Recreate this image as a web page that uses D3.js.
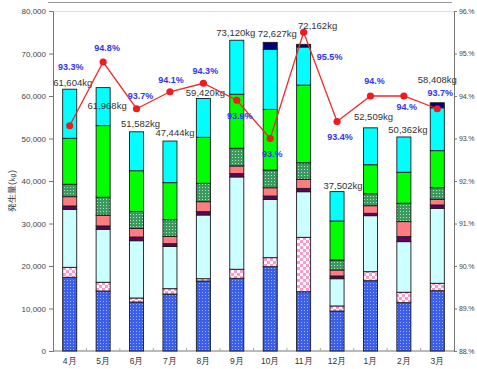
<!DOCTYPE html>
<html>
<head>
<meta charset="utf-8">
<script src="https://cdn.jsdelivr.net/npm/d3@7"></script>
<style>
  body { margin: 0; background: #fff; }
  text { font-family: "Liberation Sans", Arial, sans-serif; }
</style>
</head>
<body>
<svg id="chart" width="477" height="369"></svg>
<script>
const months = ["4月", "5月", "6月", "7月", "8月", "9月", "10月", "11月", "12月", "1月", "2月", "3月"];
const totalLabels = ["61,604kg", "61,968kg", "51,582kg", "47,444kg", "59,420kg", "73,120kg", "72,627kg", "72,162kg", "37,502kg", "52,509kg", "50,362kg", "58,408kg"];
const rateValues = [0.933, 0.948, 0.937, 0.941, 0.943, 0.939, 0.930, 0.955, 0.934, 0.940, 0.940, 0.937];
const rateLabels = ["93.3%", "94.8%", "93.7%", "94.1%", "94.3%", "93.9%", "93.%", "95.5%", "93.4%", "94.%", "94.%", "93.7%"];

// stacked series, bottom to top
const seriesKeys = ["s1", "s2", "s3", "s4", "s5", "s6", "s7", "s8", "s9"];
const s1 = [17340, 14120, 11530, 13410, 16470, 17110, 19840, 13950, 9410, 16540, 11370, 14190];
const s2 = [2350, 2050, 940, 1250, 540, 2120, 2120, 12800, 1180, 2120, 2450, 1740];
const s3 = [13650, 12470, 13480, 9950, 14990, 21720, 13720, 10730, 6420, 13180, 11910, 17650];
const s4 = [780, 780, 870, 640, 780, 780, 780, 780, 640, 560, 1180, 780];
const s5 = [2190, 2520, 2020, 1720, 2350, 1810, 1950, 2120, 1410, 1790, 3530, 1340];
const s6 = [2920, 4240, 4000, 3930, 4330, 4160, 4160, 3910, 2350, 2820, 4330, 2730];
const s7 = [10820, 16850, 9580, 8710, 10820, 12710, 14280, 18280, 9180, 6820, 7290, 8710];
const s8 = [11550, 8940, 9160, 9790, 9140, 12710, 14120, 8950, 6910, 8680, 8300, 10090];
const s9 = [0, 0, 0, 0, 0, 0, 1650, 640, 0, 0, 0, 1180];

const leftTicks = [0, 10000, 20000, 30000, 40000, 50000, 60000, 70000, 80000];
const rightTicks = [0.88, 0.89, 0.90, 0.91, 0.92, 0.93, 0.94, 0.95, 0.96];

// label placement (offsets from point / bar top)
const rateDx = [1, 4, 4, 1, 2, 3, 2, 26, 3, 4, 3, 3];
const rateDy = [-59, -14, -13, -12, -12, 16, 15, 25, 15, -15, 11, -16];
const totalDx = [3, 4, 4, 5, 2, -1, 7, 14, 6, 3, 4, 0];
const totalDy = [-7, 18, -8, -8, -6, -8, -9, -19, -6, -11, -7, -23];

const fills = {
    s1: "url(#dotBlue)", s2: "url(#checkPink)", s3: "#ccffff", s4: "#660066", s5: "#ff7c80",
    s6: "url(#dotGreen)", s7: "#00ff00", s8: "#00ffff", s9: "#000080"
};

const rows = months.map((m, i) => ({
    month: m, s1: s1[i], s2: s2[i], s3: s3[i], s4: s4[i], s5: s5[i],
    s6: s6[i], s7: s7[i], s8: s8[i], s9: s9[i]
}));

const svg = d3.select("#chart");
const plotLeft = 53, plotRight = 454, plotTop = 11, plotBottom = 351;

const x = d3.scaleBand().domain(months).range([plotLeft, plotRight]).paddingInner(0.58).paddingOuter(0.29);
const y = d3.scaleLinear().domain([0, 80000]).range([plotBottom, plotTop]);
const yr = d3.scaleLinear().domain([0.88, 0.96]).range([plotBottom, plotTop]);

const defs = svg.append("defs");
const dotBlue = defs.append("pattern").attr("id", "dotBlue").attr("patternUnits", "userSpaceOnUse").attr("width", 3).attr("height", 3);
dotBlue.append("rect").attr("width", 3).attr("height", 3).attr("fill", "#3b5fe8");
dotBlue.append("rect").attr("x", 1).attr("y", 1).attr("width", 1).attr("height", 1).attr("fill", "#9fb4ff");

const checkPink = defs.append("pattern").attr("id", "checkPink").attr("patternUnits", "userSpaceOnUse").attr("width", 6).attr("height", 6);
checkPink.append("rect").attr("width", 6).attr("height", 6).attr("fill", "#fff");
checkPink.append("rect").attr("width", 3).attr("height", 3).attr("fill", "#ff99cc");
checkPink.append("rect").attr("x", 3).attr("y", 3).attr("width", 3).attr("height", 3).attr("fill", "#ff99cc");

const dotGreen = defs.append("pattern").attr("id", "dotGreen").attr("patternUnits", "userSpaceOnUse").attr("width", 3).attr("height", 3);
dotGreen.append("rect").attr("width", 3).attr("height", 3).attr("fill", "#3a9a60");
dotGreen.append("rect").attr("x", 1).attr("y", 1).attr("width", 1).attr("height", 1).attr("fill", "#b8e0c4");

// frame lines
svg.append("line").attr("x1", 48).attr("x2", 452).attr("y1", 2.5).attr("y2", 2.5).attr("stroke", "#999");
svg.append("line").attr("x1", plotLeft).attr("x2", plotRight).attr("y1", plotTop + 0.5).attr("y2", plotTop + 0.5).attr("stroke", "#ddd");

// axes
const leftAxis = svg.append("g").attr("transform", `translate(${plotLeft},0)`)
    .call(d3.axisLeft(y).tickValues(leftTicks).tickFormat(d3.format(",")).tickSize(4).tickPadding(3));
const rightAxis = svg.append("g").attr("transform", `translate(${plotRight},0)`)
    .call(d3.axisRight(yr).tickValues(rightTicks).tickFormat(d => Math.round(d * 100) + ".%").tickSize(3).tickPadding(2));
[leftAxis, rightAxis].forEach(g => {
    g.select(".domain").attr("stroke", "#777");
    g.selectAll(".tick line").attr("stroke", "#777");
    g.selectAll(".tick text").attr("fill", "#444").style("font-size", "8px");
});
rightAxis.selectAll(".tick text").style("font-size", "7px").attr("letter-spacing", "-0.2");

const xAxis = svg.append("g").attr("transform", `translate(0,${plotBottom})`);
xAxis.append("line").attr("x1", plotLeft).attr("x2", plotRight).attr("stroke", "#777");
xAxis.selectAll(".xtick").data(d3.range(1, 12)).join("line")
    .attr("x1", i => plotLeft + i * x.step()).attr("x2", i => plotLeft + i * x.step())
    .attr("y1", 0).attr("y2", -3).attr("stroke", "#aaa");
xAxis.selectAll(".xlabel").data(months).join("text")
    .attr("x", d => x(d) + x.bandwidth() / 2).attr("y", 13)
    .attr("text-anchor", "middle").attr("fill", "#333").style("font-size", "8.5px")
    .text(d => d);

svg.append("text")
    .attr("transform", `translate(15,${(plotTop + plotBottom) / 2 + 10}) rotate(-90)`)
    .attr("text-anchor", "middle").attr("fill", "#333").style("font-size", "9px")
    .text("発生量(㎏)");

// stacked bars
const stacked = d3.stack().keys(seriesKeys)(rows);
svg.append("g").selectAll("g").data(stacked).join("g")
    .attr("fill", d => fills[d.key])
    .selectAll("rect").data(d => d.filter(p => p[1] > p[0])).join("rect")
    .attr("x", d => x(d.data.month))
    .attr("width", x.bandwidth())
    .attr("y", d => y(d[1]))
    .attr("height", d => y(d[0]) - y(d[1]))
    .attr("stroke", "#1a1a1a").attr("stroke-width", 0.9);

const tops = rows.map(r => d3.sum(seriesKeys, k => r[k]));

svg.append("g").selectAll("text").data(totalLabels).join("text")
    .attr("x", (d, i) => x(months[i]) + x.bandwidth() / 2 + totalDx[i])
    .attr("y", (d, i) => y(tops[i]) + totalDy[i])
    .attr("dy", "0.35em").attr("text-anchor", "middle")
    .attr("fill", "#333").style("font-size", "9.5px")
    .text(d => d);

// rate line
const cx = i => x(months[i]) + x.bandwidth() / 2;
const rateLine = d3.line().x((d, i) => cx(i)).y(d => yr(d));
svg.append("path").datum(rateValues)
    .attr("d", rateLine).attr("fill", "none").attr("stroke", "#ee2a2a").attr("stroke-width", 1.3);
svg.append("g").selectAll("circle").data(rateValues).join("circle")
    .attr("cx", (d, i) => cx(i)).attr("cy", d => yr(d)).attr("r", 3.6)
    .attr("fill", "#ee1c1c");

svg.append("g").selectAll("text").data(rateLabels).join("text")
    .attr("x", (d, i) => cx(i) + rateDx[i])
    .attr("y", (d, i) => yr(rateValues[i]) + rateDy[i])
    .attr("dy", "0.35em").attr("text-anchor", "middle")
    .attr("fill", "#3333ee").style("font-size", "9px").style("font-weight", "bold")
    .text(d => d);
</script>
</body>
</html>
